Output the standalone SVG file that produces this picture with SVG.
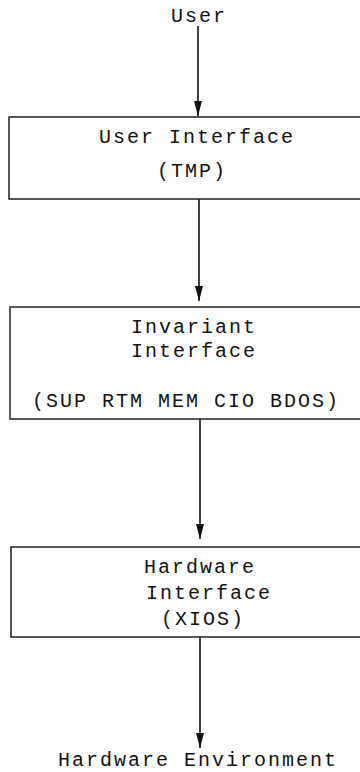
<svg xmlns="http://www.w3.org/2000/svg" width="360" height="772" viewBox="0 0 360 772">
<style>
  .t { font-family: "Liberation Mono", "Courier New", monospace; font-size: 20px; letter-spacing: 2px; fill: #111; }
  .box { fill: #fff; stroke: #222; stroke-width: 1.5; }
  .conn { stroke: #111; stroke-width: 1.6; fill: none; marker-end: url(#ah); }
</style>
<defs>
  <marker id="ah" markerUnits="userSpaceOnUse" markerWidth="16" markerHeight="9" refX="15" refY="4.5" orient="auto" viewBox="0 0 16 9">
    <path d="M0,0.5 L15,4.5 L0,8.5 Z" fill="#111"/>
  </marker>
</defs>
<rect width="360" height="772" fill="#fff"/>
<g id="connectors">
  <line class="conn" x1="198" y1="26" x2="198" y2="116"/>
  <line class="conn" x1="199" y1="199" x2="199" y2="301"/>
  <line class="conn" x1="200" y1="419" x2="200" y2="539"/>
  <line class="conn" x1="200" y1="637" x2="200" y2="748"/>
</g>
<g id="user">
  <text class="t" x="171" y="22">User</text>
</g>
<g id="user-interface">
  <rect class="box" x="9" y="117" width="360" height="82"/>
  <text class="t" x="99" y="143">User Interface</text>
  <text class="t" x="157" y="177">(TMP)</text>
</g>
<g id="invariant-interface">
  <rect class="box" x="10" y="307" width="360" height="112"/>
  <text class="t" x="131" y="333">Invariant</text>
  <text class="t" x="131" y="357">Interface</text>
  <text class="t" x="32" y="407">(SUP RTM MEM CIO BDOS)</text>
</g>
<g id="hardware-interface">
  <rect class="box" x="11" y="547" width="360" height="90"/>
  <text class="t" x="144" y="573">Hardware</text>
  <text class="t" x="146" y="599">Interface</text>
  <text class="t" x="161" y="625">(XIOS)</text>
</g>
<g id="hardware-environment">
  <text class="t" x="58" y="766">Hardware Environment</text>
</g>
</svg>
